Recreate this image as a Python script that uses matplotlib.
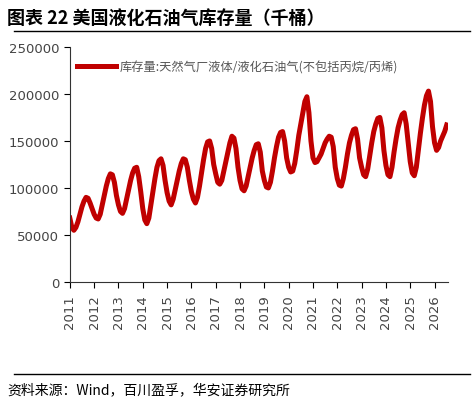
import numpy as np
import matplotlib.pyplot as plt
from matplotlib.lines import Line2D

plt.rcParams['font.family'] = ['Noto Sans CJK SC', 'DejaVu Sans']

# monthly LPG inventory estimates (thousand barrels), Jan..Dec per year
stock = {
    2011: [68, 58, 55, 58, 64, 72, 80, 86, 90, 89, 84, 78],
    2012: [72, 68, 67, 72, 82, 92, 102, 110, 115, 114, 106, 92],
    2013: [82, 75, 73, 78, 88, 98, 108, 116, 121, 122, 112, 96],
    2014: [78, 66, 62, 68, 82, 96, 110, 122, 129, 131, 124, 108],
    2015: [95, 86, 82, 88, 98, 108, 118, 126, 131, 130, 122, 108],
    2016: [96, 88, 84, 90, 102, 116, 130, 142, 149, 150, 142, 125],
    2017: [115, 106, 104, 108, 118, 128, 138, 148, 155, 153, 142, 122],
    2018: [108, 99, 97, 102, 112, 122, 132, 140, 146, 147, 138, 118],
    2019: [108, 101, 100, 106, 118, 132, 144, 154, 159, 160, 150, 132],
    2020: [122, 117, 118, 126, 140, 156, 168, 180, 192, 197, 180, 150],
    2021: [132, 127, 128, 132, 136, 142, 148, 152, 155, 154, 144, 122],
    2022: [110, 103, 102, 110, 122, 136, 148, 156, 162, 163, 152, 132],
    2023: [122, 114, 112, 120, 134, 148, 160, 168, 174, 175, 164, 140],
    2024: [124, 114, 112, 122, 138, 152, 164, 172, 178, 180, 168, 148],
    2025: [128, 116, 113, 122, 140, 158, 174, 188, 198, 203, 192, 165],
    2026: [148, 140, 143, 150, 155, 160, 167],
}
years = list(range(2011, 2027))
x_labels = [str(y) for y in years]

t, v = [], []
for y in years:
    for m, val in enumerate(stock[y]):
        t.append(y + m / 12)
        v.append(val * 1000)

red = '#c00000'
fig = plt.figure(figsize=(4.75, 4.06), dpi=100)
ax = fig.add_axes([0.147, 0.303, 0.796, 0.579])
ax.plot(t, v, color=red, lw=3.6, solid_joinstyle='round')
ax.set_xlim(2011, 2026.55)
ax.set_ylim(0, 250000)
ax.set_yticks(np.arange(0, 250001, 50000))
ax.set_xticks(years)
ax.set_xticklabels(x_labels, rotation=90, fontsize=9.5, color='#444444', family='DejaVu Sans')
ax.tick_params(axis='y', labelsize=9.5, labelcolor='#444444', direction='out', length=4)
ax.tick_params(axis='x', direction='out', length=4, pad=5)
for s in ['top', 'right']:
    ax.spines[s].set_visible(False)
for s in ['left', 'bottom']:
    ax.spines[s].set_color('#333333')
for lab in ax.get_yticklabels():
    lab.set_family('DejaVu Sans')

leg = ax.legend([Line2D([], [], color=red, lw=3.6)],
                ['库存量:天然气厂液体/液化石油气(不包括丙烷/丙烯)'],
                loc='upper left', bbox_to_anchor=(-0.01, 0.99), frameon=False,
                fontsize=8.8, handlelength=3.2, handletextpad=0.3)
for tx in leg.get_texts():
    tx.set_color('#555555')

fig.text(0.015, 0.955, '图表 22 美国液化石油气库存量（千桶）', fontsize=13,
         fontweight='bold', va='center')
fig.add_artist(Line2D([0.03, 0.99], [0.92, 0.92], color='black', lw=1))
fig.add_artist(Line2D([0.03, 0.99], [0.077, 0.077], color='black', lw=1))
fig.text(0.015, 0.04, '资料来源：Wind，百川盈孚，华安证券研究所', fontsize=10, va='center')

fig.savefig('out.png')
